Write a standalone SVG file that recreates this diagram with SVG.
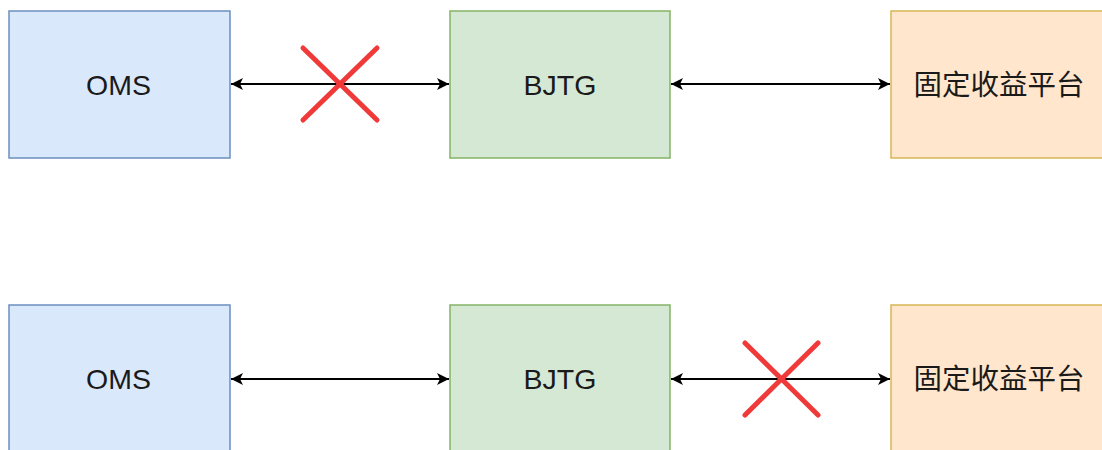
<svg xmlns="http://www.w3.org/2000/svg" width="1102" height="450" viewBox="0 0 1102 450">
<defs>
<style>
.box{stroke-width:1.5}
.oms{fill:#dae8fc;stroke:#6c8ebf}
.bj{fill:#d5e8d4;stroke:#82b366}
.fi{fill:#ffe6cc;stroke:#d6b656}
.lbl{font-family:"Liberation Sans","Noto Sans CJK SC",sans-serif;font-size:28.5px;fill:#1a1a1a;text-anchor:middle;dominant-baseline:central}
.edge{stroke:#000;stroke-width:1.8;fill:none;marker-start:url(#ah);marker-end:url(#ah)}
.x{stroke:#f03a3a;stroke-width:5;stroke-linecap:round}
</style>
<marker id="ah" viewBox="0 0 10 10" refX="10" refY="5" markerWidth="12" markerHeight="12" markerUnits="userSpaceOnUse" orient="auto-start-reverse">
<path d="M0,0 L10,5 L0,10 L2.5,5 Z" fill="#000"/>
</marker>
</defs>
<rect width="1102" height="450" fill="#fff"/>
<g id="oms1"><rect class="box oms" x="9" y="11" width="221" height="147"/><text class="lbl" x="118.5" y="84.5">OMS</text></g>
<g id="bjtg1"><rect class="box bj" x="450" y="11" width="220" height="147"/><text class="lbl" x="560" y="84.5">BJTG</text></g>
<g id="fi1"><rect class="box fi" x="891" y="11" width="220" height="147"/><text class="lbl" x="999" y="84.5">固定收益平台</text></g>
<g id="oms2"><rect class="box oms" x="9" y="305" width="221" height="147"/><text class="lbl" x="118.5" y="379">OMS</text></g>
<g id="bjtg2"><rect class="box bj" x="450" y="305" width="220" height="147"/><text class="lbl" x="560" y="379">BJTG</text></g>
<g id="fi2"><rect class="box fi" x="891" y="305" width="220" height="147"/><text class="lbl" x="999" y="379">固定收益平台</text></g>
<g id="connectors">
<line class="edge" x1="231" y1="84" x2="449" y2="84"/>
<line class="edge" x1="671" y1="84" x2="890" y2="84"/>
<line class="edge" x1="231" y1="379" x2="449" y2="379"/>
<line class="edge" x1="671" y1="379" x2="890" y2="379"/>
</g>
<g id="cross1"><line class="x" x1="303" y1="48" x2="377" y2="120"/><line class="x" x1="377" y1="48" x2="303" y2="120"/></g>
<g id="cross2"><line class="x" x1="745" y1="343" x2="818" y2="415"/><line class="x" x1="818" y1="343" x2="745" y2="415"/></g>
</svg>
